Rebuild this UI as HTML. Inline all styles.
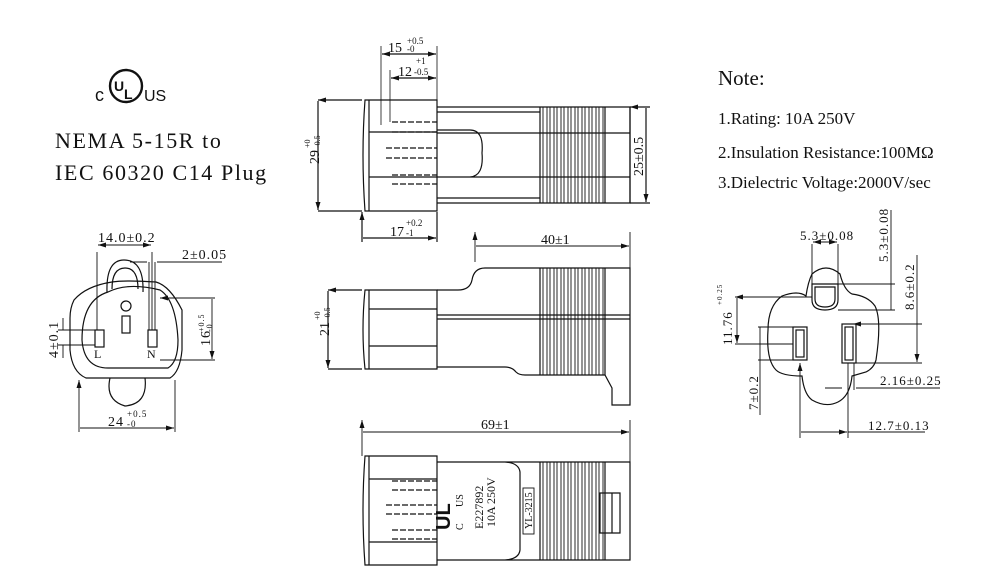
<!DOCTYPE html>
<html><head><style>body{margin:0;background:#fff}svg{display:block}</style></head><body>
<svg width="1000" height="588" viewBox="0 0 1000 588" xmlns="http://www.w3.org/2000/svg" font-family="Liberation Serif, serif" fill="none" stroke="#111" stroke-width="1.2">
<defs><marker id="a" markerUnits="userSpaceOnUse" markerWidth="8" markerHeight="5" refX="8" refY="2.5" orient="auto-start-reverse"><path d="M0,0L8,2.5L0,5z" fill="#111" stroke="none"/></marker></defs>
<g fill="#111" stroke="none">
<text x="718" y="85" font-size="21">Note:</text>
<text x="718" y="124" font-size="17">1.Rating: 10A 250V</text>
<text x="718" y="158" font-size="17">2.Insulation Resistance:100MΩ</text>
<text x="718" y="188" font-size="17">3.Dielectric Voltage:2000V/sec</text>
<text x="55" y="148" font-size="22" letter-spacing="1.6">NEMA 5-15R to</text>
<text x="55" y="180" font-size="22" letter-spacing="1.6">IEC 60320 C14 Plug</text>
<text x="95" y="101" font-size="18" font-family="Liberation Sans, sans-serif">c</text>
<text x="144" y="101" font-size="16" font-family="Liberation Sans, sans-serif">US</text>
<text x="114" y="91" font-size="14" font-weight="bold" font-family="Liberation Sans, sans-serif">U</text>
<text x="124" y="99" font-size="14" font-weight="bold" font-family="Liberation Sans, sans-serif">L</text>
</g>
<circle cx="126" cy="86" r="16" stroke-width="2.4"/>
<!-- TOP VIEW -->
<path d="M365,100H437V211H365Q361,155 365,100Z"/><path d="M369,100V211"/>
<path d="M369,132H437M369,177H437"/>
<path d="M392,122H437M392,132H437M386,148H437M386,158H437M392,175H437M392,184H437" stroke-dasharray="6,2"/>
<path d="M437,107H630V203H437M437,198H540M437,112H540"/>
<path d="M437,133H630M437,177H630M437,130H470Q484,130 482,153Q484,176 470,177"/>
<path d="M540,107V203M605,107V203M630,107V203"/>
<path d="M543,107V203M547,107V203M550,107V203M554,107V203M557,107V203M561,107V203M564,107V203M568,107V203M571,107V203M575,107V203M578,107V203M582,107V203M585,107V203M589,107V203M592,107V203M596,107V203M599,107V203M603,107V203" stroke-width="0.9"/>
<path d="M318,100H362M318,211H362M318,101V210" marker-start="url(#a)" marker-end="url(#a)"/>
<path d="M381,46V125M437,46V100M390,70V122" stroke-width="0.8"/>
<path d="M382,54H436" marker-start="url(#a)" marker-end="url(#a)"/>
<path d="M391,78H436" marker-start="url(#a)" marker-end="url(#a)"/>
<path d="M362,212V242M437,212V242M363,238H436" marker-start="url(#a)" marker-end="url(#a)"/>
<path d="M630,107H650M630,203H650M646,108V202" marker-start="url(#a)" marker-end="url(#a)"/>
<g fill="#111" stroke="none">
<text x="388" y="52" font-size="14">15</text><text x="407" y="44" font-size="9">+0.5</text><text x="407" y="52" font-size="9">-0</text>
<text x="398" y="76" font-size="14">12</text><text x="416" y="64" font-size="9">+1</text><text x="414" y="75" font-size="9">-0.5</text>
<text x="390" y="236" font-size="14">17</text><text x="406" y="226" font-size="9">+0.2</text><text x="406" y="236" font-size="9">-1</text>
<text x="541" y="244" font-size="14">40±1</text>
<text transform="translate(319,164) rotate(-90)" font-size="14">29</text><text transform="translate(310,148) rotate(-90)" font-size="8">+0</text><text transform="translate(320,148) rotate(-90)" font-size="8">-0.5</text>
<text transform="translate(643,176) rotate(-90)" font-size="14">25±0.5</text>
<text transform="translate(329,336) rotate(-90)" font-size="14">21</text><text transform="translate(320,320) rotate(-90)" font-size="8">+0</text><text transform="translate(330,320) rotate(-90)" font-size="8">-0.5</text>
<text x="481" y="429" font-size="14">69±1</text>
</g>
<!-- MIDDLE VIEW -->
<path d="M475,232V262M630,232V268M476,246H629" marker-start="url(#a)" marker-end="url(#a)" stroke-width="0.9"/>
<path d="M365,290H437V369H365Q361,330 365,290Z"/><path d="M369,290V369M369,309H437M369,346H437"/>
<path d="M437,290H458Q470,290 472,280Q474,268 485,268H630V375"/>
<path d="M437,367H505Q512,367 516,372Q519,375 525,375H605L612,388V405H630V375"/>
<path d="M437,315H630M437,319H630M540,268V375M605,268V375"/>
<g transform="translate(0,161)"><path d="M543,107V214M547,107V214M550,107V214M554,107V214M557,107V214M561,107V214M564,107V214M568,107V214M571,107V214M575,107V214M578,107V214M582,107V214M585,107V214M589,107V214M592,107V214M596,107V214M599,107V214M603,107V214" stroke-width="0.9"/></g>
<path d="M328,290H362M328,369H362M328,291V368" marker-start="url(#a)" marker-end="url(#a)"/>
<!-- BOTTOM VIEW -->
<path d="M362,420V456M630,420V462M363,432H629" marker-start="url(#a)" marker-end="url(#a)" stroke-width="0.9"/>
<path d="M365,456H437V565H365Q361,510 365,456Z"/><path d="M369,456V565M369,479H437M369,542H437"/>
<path d="M392,481H437M392,490H437M386,505H437M386,514H437M392,530H437M392,539H437" stroke-dasharray="6,2"/>
<path d="M437,462H630V560H437M505,462Q519,463 520,472V550Q519,559 505,560"/>
<path d="M540,462V560M605,462V560M600,493H620V533H600ZM612,493V533"/>
<path d="M543,462V560M547,462V560M550,462V560M554,462V560M557,462V560M561,462V560M564,462V560M568,462V560M571,462V560M575,462V560M578,462V560M582,462V560M585,462V560M589,462V560M592,462V560M596,462V560M599,462V560M603,462V560" stroke-width="0.9"/>
<rect x="523" y="488" width="11" height="46" stroke-width="0.9"/>
<g fill="#111" stroke="none">
<text transform="translate(450,530) rotate(-90)" font-size="20" font-weight="bold" font-family="Liberation Sans,sans-serif">UL</text>
<text transform="translate(463,507) rotate(-90)" font-size="10">US</text>
<text transform="translate(463,530) rotate(-90)" font-size="10">C</text>
<text transform="translate(483,529) rotate(-90)" font-size="12">E227892</text>
<text transform="translate(495,527) rotate(-90)" font-size="12">10A 250V</text>
<text transform="translate(532,529) rotate(-90)" font-size="10">YL-3215</text>
</g>
<!-- LEFT FACE (C14) -->
<path d="M108,292Q128,282 160,290Q176,300 178,340Q178,362 168,368L108,368Q84,368 82,340Q82,300 108,292Z"/>
<path d="M74,300Q86,286 112,282Q125,280 156,282Q170,286 182,310L182,350Q180,372 170,378L86,378Q72,372 70,350V318Q70,308 74,300Z"/>
<path d="M107,292Q106,260 124,260Q144,260 143,292M112,289Q112,268 125,268Q138,268 138,289"/>
<path d="M110,378Q105,400 125,406Q148,404 145,378"/>
<rect x="95" y="330" width="9" height="17"/><rect x="148" y="330" width="9" height="17"/><rect x="122" y="316" width="8" height="17"/>
<circle cx="126" cy="306" r="5"/>
<path d="M97,252V330M152,252V330" stroke-width="0.9"/>
<path d="M98,245H151" marker-start="url(#a)" marker-end="url(#a)" stroke-width="0.9"/>
<path d="M130,262H147M157,262H222M149,262V330M155,262V330" stroke-width="0.9"/>
<path d="M58,330H95M58,345H95M63,318V330M63,345V358" stroke-width="0.9"/>
<path d="M160,298H215M160,360H215M212,299V359" marker-start="url(#a)" marker-end="url(#a)" stroke-width="0.9"/>
<path d="M79,380V432M175,380V432M80,428H174" marker-start="url(#a)" marker-end="url(#a)" stroke-width="0.9"/>
<g fill="#111" stroke="none" letter-spacing="1">
<text x="98" y="242" font-size="14">14.0±0.2</text>
<text x="182" y="259" font-size="14">2±0.05</text>
<text x="94" y="358" font-size="12">L</text>
<text x="147" y="358" font-size="12">N</text>
<text transform="translate(58,358) rotate(-90)" font-size="14">4±0.1</text>
<text transform="translate(210,346) rotate(-90)" font-size="14">16</text>
<text transform="translate(204,332) rotate(-90)" font-size="8">+0.5</text>
<text transform="translate(212,332) rotate(-90)" font-size="8">-0</text>
<text x="108" y="426" font-size="14">24</text><text x="127" y="417" font-size="9">+0.5</text><text x="127" y="427" font-size="9">-0</text>
</g>
<!-- RIGHT FACE (NEMA) -->
<path d="M812,274Q826,262 840,274Q844,290 852,294Q868,296 875,306Q882,320 876,360Q874,368 866,372L852,376Q850,396 838,402Q826,408 812,400Q804,394 802,376Q782,376 776,370Q766,360 768,330Q768,306 782,296Q798,290 806,296Q808,282 812,274Z"/>
<path d="M812,284H838V300Q838,310 825,310Q812,310 812,300Z"/><path d="M815,287H835V299Q835,307 825,307Q815,307 815,299Z"/>
<rect x="793" y="327" width="14" height="33"/><rect x="796" y="330" width="8" height="27"/>
<rect x="842" y="324" width="14" height="39"/><rect x="845" y="327" width="8" height="33"/>
<path d="M812,244V284M838,244V284" stroke-width="0.9"/>
<path d="M813,242H837" marker-start="url(#a)" marker-end="url(#a)" stroke-width="0.9"/>
<path d="M838,284H895M838,310H895M891,210V310" stroke-width="0.9"/>
<path d="M853,324H922M853,363H922M917,255V362" marker-start="url(#a)" marker-end="url(#a)" stroke-width="0.9"/>
<path d="M735,297H812M735,344H793M737,298V343" marker-start="url(#a)" marker-end="url(#a)" stroke-width="0.9"/>
<path d="M758,327H793M758,360H793M760,327V415" stroke-width="0.9"/>
<path d="M800,363V438M848,363V438M801,432H847" marker-start="url(#a)" marker-end="url(#a)" stroke-width="0.9"/>
<path d="M854,363V390M825,388H842M856,388H940" stroke-width="0.9"/>
<path d="M848,432H925" stroke-width="0.9"/>
<g fill="#111" stroke="none" font-size="13" letter-spacing="1">
<text x="800" y="240">5.3±0.08</text>
<text transform="translate(888,262) rotate(-90)">5.3±0.08</text>
<text transform="translate(914,310) rotate(-90)">8.6±0.2</text>
<text transform="translate(732,345) rotate(-90)">11.76</text>
<text transform="translate(722,305) rotate(-90)" font-size="7">+0.25</text>
<text transform="translate(758,410) rotate(-90)">7±0.2</text>
<text x="880" y="385">2.16±0.25</text>
<text x="868" y="430">12.7±0.13</text>
</g>
</svg>
</body></html>
